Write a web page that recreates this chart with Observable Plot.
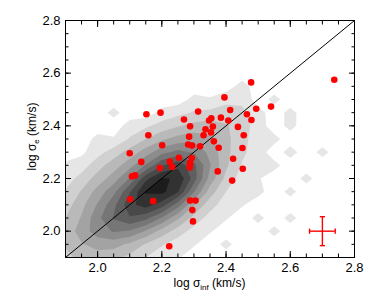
<!DOCTYPE html>
<html><head><meta charset="utf-8">
<script src="https://cdn.jsdelivr.net/npm/d3@7"></script>
<script src="https://cdn.jsdelivr.net/npm/@observablehq/plot@0.6"></script>
<style>body{margin:0;background:#fff}#chart{width:374px;height:299px}</style>
</head><body><div id="chart"></div>
<script>
// ---- data ----
const majorTicks = [2.0, 2.2, 2.4, 2.6, 2.8];
const minorTicks = [1.95, 2.0, 2.05, 2.1, 2.15, 2.2, 2.25, 2.3, 2.35, 2.4, 2.45, 2.5, 2.55, 2.6, 2.65, 2.7, 2.75];
const oneToOne = [1.9, 2.8];

const logSigmaInf = [2.152,2.196,2.158,2.201,2.100,2.136,2.107,2.117,2.101,2.173,2.194,2.225,2.232,2.253,2.269,2.288,2.285,2.282,2.294,2.293,2.288,2.288,2.287,2.313,2.319,2.330,2.336,2.347,2.354,2.353,2.359,2.362,2.377,2.374,2.384,2.395,2.407,2.413,2.437,2.422,2.451,2.419,2.452,2.455,2.465,2.478,2.479,2.494,2.540,2.737,2.288,2.305,2.295,2.297,2.223];
const logSigmaE   = [2.444,2.450,2.364,2.326,2.296,2.263,2.208,2.212,2.121,2.114,2.240,2.264,2.244,2.279,2.424,2.398,2.359,2.329,2.325,2.278,2.261,2.251,2.242,2.454,2.322,2.364,2.387,2.420,2.429,2.375,2.397,2.341,2.317,2.227,2.431,2.508,2.420,2.460,2.396,2.275,2.316,2.192,2.237,2.364,2.444,2.565,2.422,2.465,2.473,2.575,2.116,2.116,2.080,2.037,1.943];

// typical error bar
const errX = 2.7, errY = 2.0, errDX = 0.04, errDY = 0.055;

// density grid (cell centres x = 1.90..2.80, rows y = 2.80 (top) .. 1.90 (bottom), step 0.05)
const densityLevels = [0.5,1.5,2.5,3.5,4.5,5.5,6.5,7.5,8.5,9.5];
const densityRows = [
/*2.80*/[0,0,0,0,0,0,0,0,0,0,0,0,0,0,0,0,0,0,0],
/*2.75*/[0,0,0,0,0,0,0,0,0,0,0,0,0,0,0,0,0,0,0],
/*2.70*/[0,0,0,0,0,0,0,0,0,0,0,0,0,0,0,0,0,0,0],
/*2.65*/[0,0,0,0,0,0,0,0,0,0,0,0,0,0,0,0,0,0,0],
/*2.60*/[0,0,0,0,0,0,0,0,0,0,0,0,0,0,0,0,0,0,0],
/*2.55*/[0,0,0,0,0,0,0,0,0,0,0,0.9,0,0,0,0,0,0,0],
/*2.50*/[0,0,0,0,0,0,0,0,0.8,0.6,1.2,1.3,0,0.8,0,0,0,0,0],
/*2.45*/[0,0,0,0.8,0,0,0.8,1.2,1.6,1.8,2.0,1.7,0.9,0,0.8,0,0,0,0],
/*2.40*/[0,0,0,0,0.9,1.3,1.9,2.4,2.8,3.0,2.6,2.0,1.0,0,0.8,0,0,0,0],
/*2.35*/[0,0,0.8,0.6,1.6,2.5,3.3,3.9,4.2,3.7,2.8,1.8,1.0,0.8,0,0,0,0,0],
/*2.30*/[0,0.3,1.1,2.0,2.9,4.0,5.2,5.8,5.4,4.2,2.8,1.7,1.0,0,0.9,0,0.8,0,0],
/*2.25*/[0.7,1.0,2.1,3.0,4.1,5.6,7.4,8.2,6.8,4.6,2.7,1.4,0.7,0.8,0,0,0,0,0],
/*2.20*/[1.0,1.9,2.9,4.0,5.6,8.2,9.6,9.4,7.0,4.1,2.2,1.0,0.6,0,0,0.8,0,0,0],
/*2.15*/[1.6,2.6,3.9,5.2,7.4,9.6,9.8,8.6,5.6,3.0,1.5,0.8,0.8,0,0.8,0,0,0,0],
/*2.10*/[2.0,3.2,4.6,6.2,8.2,9.0,8.0,6.0,3.6,1.9,1.0,0.6,0,0,0,0,0,0,0],
/*2.05*/[2.5,3.6,5.2,6.6,7.4,6.8,5.4,3.7,2.1,1.1,0.6,0,0.8,0,0.8,0,0,0,0],
/*2.00*/[2.8,4.0,5.0,5.6,5.4,4.4,3.1,2.0,1.1,0.6,0,0,0,0.8,0,0,0,0,0],
/*1.95*/[2.6,3.4,3.9,3.9,3.3,2.4,1.6,1.0,0.6,0,0.8,0,0,0,0,0,0,0,0],
/*1.90*/[2.2,2.8,3.0,2.8,2.2,1.5,0.9,0.6,0,0,0,0,0,0,0,0,0,0,0]
];

// ---- build ----
const points = logSigmaInf.map((x, i) => ({x, y: logSigmaE[i]}));
const densityValues = densityRows.flat();
const nCols = densityRows[0].length, nRows = densityRows.length;

const vCap = {draw(ctx, size) { const r = Math.sqrt(size / Math.PI); ctx.moveTo(0, -r); ctx.lineTo(0, r); }};
const hCap = {draw(ctx, size) { const r = Math.sqrt(size / Math.PI); ctx.moveTo(-r, 0); ctx.lineTo(r, 0); }};

const blank = () => "";
const chart = Plot.plot({
  width: 374, height: 299,
  marginLeft: 65, marginRight: 20, marginTop: 20, marginBottom: 42,
  style: {fontFamily: "'Liberation Sans', Arial, Helvetica, sans-serif", fontSize: "13px", background: "white", color: "black"},
  x: {domain: [1.9, 2.8], label: null},
  y: {domain: [1.9, 2.8], label: null},
  color: {type: "linear", domain: [0.5, 9.5], range: ["#e6e6e6", "#1c1c1c"]},
  marks: [
    Plot.contour(densityValues, {
      x1: 1.875, x2: 2.825, y1: 2.825, y2: 1.875, width: nCols, height: nRows,
      fill: Plot.identity, thresholds: densityLevels, stroke: "none", clip: true
    }),
    Plot.line(oneToOne, {x: d => d, y: d => d, stroke: "black", strokeWidth: 1, clip: true}),
    Plot.dot(points, {x: "x", y: "y", r: 3.3, fill: "#ff0000", stroke: "none"}),
    Plot.ruleY([errY], {x1: errX - errDX, x2: errX + errDX, stroke: "#ff0000", strokeWidth: 1.4}),
    Plot.ruleX([errX], {y1: errY - errDY, y2: errY + errDY, stroke: "#ff0000", strokeWidth: 1.4}),
    Plot.dot([errX - errDX, errX + errDX], {x: d => d, y: () => errY, symbol: vCap, r: 2.6, stroke: "#ff0000", fill: "none", strokeWidth: 1.4}),
    Plot.dot([errY - errDY, errY + errDY], {x: () => errX, y: d => d, symbol: hCap, r: 2.6, stroke: "#ff0000", fill: "none", strokeWidth: 1.4}),
    Plot.frame({stroke: "black", strokeWidth: 1}),
    // labelled axes
    Plot.axisX(majorTicks, {anchor: "bottom", tickSize: 0, tickPadding: 5, tickFormat: d3.format(".1f"), label: null}),
    Plot.axisY(majorTicks, {anchor: "left", tickSize: 0, tickPadding: 5, tickFormat: d3.format(".1f"), label: null}),
    // inward ticks on all sides
    Plot.axisX(majorTicks, {anchor: "bottom", tickSize: -6, tickFormat: blank, label: null}),
    Plot.axisX(majorTicks, {anchor: "top", tickSize: -6, tickFormat: blank, label: null}),
    Plot.axisY(majorTicks, {anchor: "left", tickSize: -6, tickFormat: blank, label: null}),
    Plot.axisY(majorTicks, {anchor: "right", tickSize: -6, tickFormat: blank, label: null}),
    Plot.axisX(minorTicks, {anchor: "bottom", tickSize: -3.5, tickFormat: blank, label: null}),
    Plot.axisX(minorTicks, {anchor: "top", tickSize: -3.5, tickFormat: blank, label: null}),
    Plot.axisY(minorTicks, {anchor: "left", tickSize: -3.5, tickFormat: blank, label: null}),
    Plot.axisY(minorTicks, {anchor: "right", tickSize: -3.5, tickFormat: blank, label: null})
  ]
});
document.getElementById("chart").appendChild(chart);

// axis titles with subscripts
const sx = chart.scale("x"), sy = chart.scale("y");
const svg = d3.select(chart);
const xt = svg.append("text")
  .attr("x", (sx.apply(1.9) + sx.apply(2.8)) / 2).attr("y", 287)
  .attr("text-anchor", "middle").attr("font-size", 12).attr("fill", "black");
xt.append("tspan").text("log σ");
xt.append("tspan").attr("font-size", 8).attr("dy", 3).text("inf");
xt.append("tspan").attr("dy", -3).text(" (km/s)");

const yt = svg.append("text")
  .attr("transform", `translate(36,${(sy.apply(1.9) + sy.apply(2.8)) / 2 - 2}) rotate(-90)`)
  .attr("text-anchor", "middle").attr("font-size", 12).attr("fill", "black");
yt.append("tspan").text("log σ");
yt.append("tspan").attr("font-size", 8).attr("dy", 3).text("e");
yt.append("tspan").attr("dy", -3).text(" (km/s)");
</script>
</body></html>
